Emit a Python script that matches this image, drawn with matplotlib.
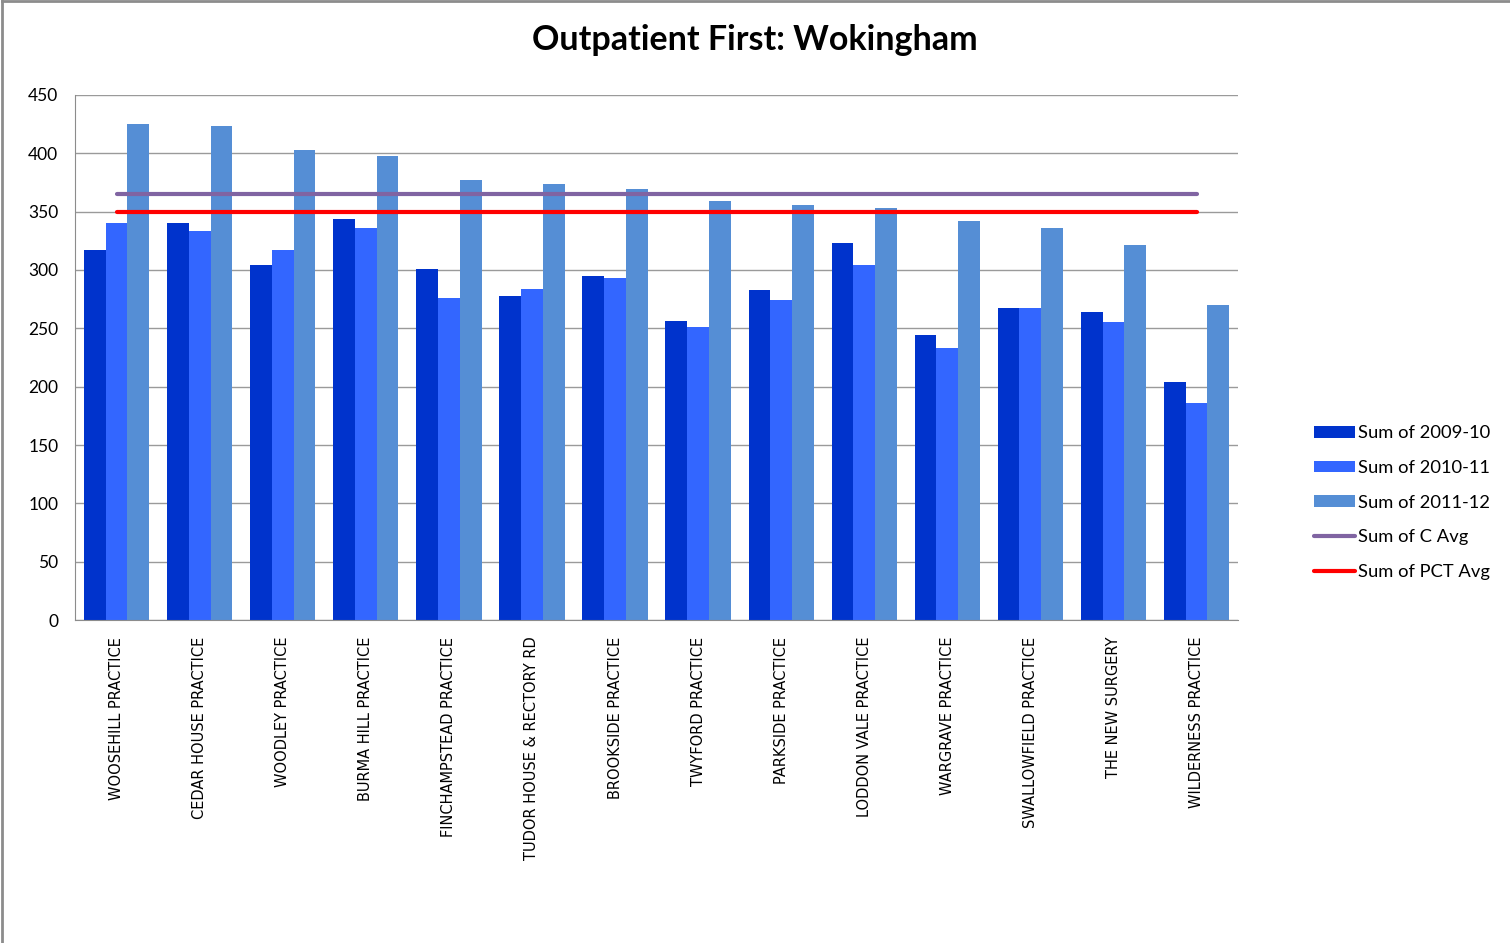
import matplotlib.pyplot as plt
import numpy as np
from matplotlib.lines import Line2D

practices = [
    "WOOSEHILL PRACTICE",
    "CEDAR HOUSE PRACTICE",
    "WOODLEY PRACTICE",
    "BURMA HILL PRACTICE",
    "FINCHAMPSTEAD PRACTICE",
    "TUDOR HOUSE & RECTORY RD",
    "BROOKSIDE PRACTICE",
    "TWYFORD PRACTICE",
    "PARKSIDE PRACTICE",
    "LODDON VALE PRACTICE",
    "WARGRAVE PRACTICE",
    "SWALLOWFIELD PRACTICE",
    "THE NEW SURGERY",
    "WILDERNESS PRACTICE",
]

sum_2009_10 = [317, 340, 304, 344, 301, 278, 295, 256, 283, 323, 244, 267, 264, 204]
sum_2010_11 = [340, 333, 317, 336, 276, 284, 293, 251, 274, 304, 233, 267, 255, 186]
sum_2011_12 = [425, 423, 403, 398, 377, 374, 369, 359, 356, 353, 342, 336, 321, 270]
c_avg = [365] * len(practices)
pct_avg = [350] * len(practices)

figure = plt.figure(figsize=(15.1, 9.43), dpi=100)
axis = figure.add_axes([0.0497, 0.3425, 0.7702, 0.5568])

x_positions = np.arange(len(practices), dtype=np.float64)
bar_width = 0.262

bars_a = axis.bar(x_positions - bar_width, sum_2009_10, width=bar_width,
                  color="#0033CC", label="Sum of 2009-10", zorder=2)
bars_b = axis.bar(x_positions, sum_2010_11, width=bar_width,
                  color="#3366FF", label="Sum of 2010-11", zorder=2)
bars_c = axis.bar(x_positions + bar_width, sum_2011_12, width=bar_width,
                  color="#558ED5", label="Sum of 2011-12", zorder=2)

(line_c,) = axis.plot(x_positions, c_avg, color="#8064A2", linewidth=3,
                      solid_capstyle="round", label="Sum of C Avg", zorder=3)
(line_pct,) = axis.plot(x_positions, pct_avg, color="#FF0000", linewidth=3,
                        solid_capstyle="round", label="Sum of PCT Avg", zorder=3)

axis.set_xlim(-0.5, len(practices) - 0.5)
axis.set_ylim(0, 450)
axis.set_yticks(np.arange(0, 451, 50))
axis.grid(True, axis="y", color="#9A9A9A", linewidth=1, zorder=0)

axis.set_xticks(x_positions)
axis.set_xticklabels(practices, rotation=90, fontsize=10.5,
                     family="DejaVu Sans")
axis.tick_params(axis="x", length=0, pad=12)
axis.tick_params(axis="y", length=0, pad=12, labelsize=12.5)
for label in axis.get_yticklabels():
    label.set_family("Lato")

for side in ["top", "right"]:
    axis.spines[side].set_visible(False)
for side in ["left", "bottom"]:
    axis.spines[side].set_color("#8C8C8C")

figure.text(0.5, 0.958, "Outpatient First: Wokingham", ha="center",
            va="center", fontsize=24.5, fontweight="bold", family="Lato")

axis.legend(
    handles=[bars_a, bars_b, bars_c, line_c, line_pct],
    loc="upper left",
    bbox_to_anchor=(0.8596, 0.5665),
    bbox_transform=figure.transFigure,
    frameon=False,
    prop={"family": "Lato", "size": 13.2},
    handlelength=2.2,
    handleheight=0.6,
    handletextpad=0.2,
    labelspacing=1.02,
)

figure.add_artist(Line2D([0.0015, 0.0015], [0, 0.999], color="#8C8C8C",
                         linewidth=2, transform=figure.transFigure))
figure.add_artist(Line2D([0.0015, 1], [0.999, 0.999], color="#8C8C8C",
                         linewidth=2, transform=figure.transFigure))

figure.savefig("out.png", dpi=100)
plt.close(figure)
